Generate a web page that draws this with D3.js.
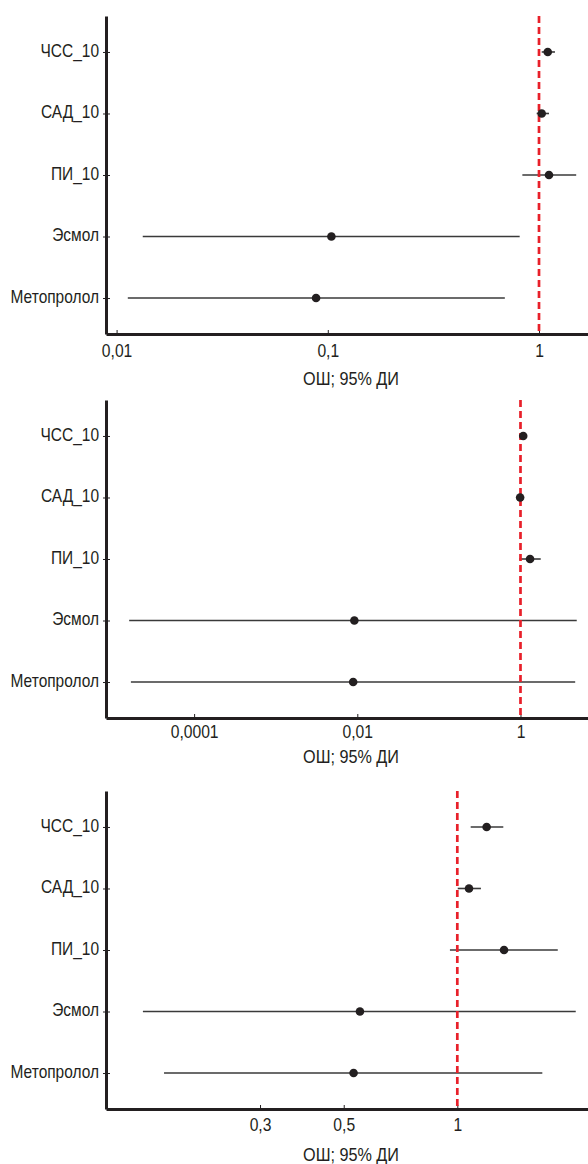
<!DOCTYPE html>
<html>
<head>
<meta charset="utf-8">
<script src="https://cdn.jsdelivr.net/npm/d3@7"></script>
<style>
    body { margin: 0; background: #fff; }
    text { font-family: "Liberation Sans", Arial, sans-serif; fill: #231f20; }
</style>
</head>
<body>
<svg id="chart" width="588" height="1164"></svg>
<script>
const categories = ["ЧСС_10", "САД_10", "ПИ_10", "Эсмол", "Метопролол"];

// panel 1
const or1 = [1.10, 1.03, 1.115, 0.104, 0.088];
const lo1 = [1.03, 0.975, 0.834, 0.0133, 0.0113];
const hi1 = [1.19, 1.115, 1.50, 0.81, 0.689];
const ticks1 = [0.01, 0.1, 1];
const tickLabels1 = ["0,01", "0,1", "1"];
const domain1 = [0.00891, 1.706];

// panel 2
const or2 = [1.08, 0.99, 1.31, 0.0092, 0.0089];
const lo2 = [1.04, 0.97, 0.967, 0.000016, 0.0000168];
const hi2 = [1.12, 1.01, 1.77, 4.89, 4.68];
const ticks2 = [0.0001, 0.01, 1];
const tickLabels2 = ["0,0001", "0,01", "1"];
const domain2 = [0.00000832, 6.72];

// panel 3
const or3 = [1.196, 1.074, 1.33, 0.552, 0.531];
const lo3 = [1.085, 1.0025, 0.956, 0.1468, 0.167];
const hi3 = [1.324, 1.155, 1.846, 2.06, 1.68];
const ticks3 = [0.3, 0.5, 1];
const tickLabels3 = ["0,3", "0,5", "1"];
const domain3 = [0.1172, 2.22];

const xTitle = "ОШ; 95% ДИ";

const panels = [
    { or: or1, lo: lo1, hi: hi1, ticks: ticks1, labels: tickLabels1, domain: domain1, top: 16, labelY: 23, titleY: 51 },
    { or: or2, lo: lo2, hi: hi2, ticks: ticks2, labels: tickLabels2, domain: domain2, top: 400, labelY: 20.5, titleY: 45 },
    { or: or3, lo: lo3, hi: hi3, ticks: ticks3, labels: tickLabels3, domain: domain3, top: 791, labelY: 22.5, titleY: 52 }
];

const svg = d3.select('#chart');
const left = 106, right = 588, panelH = 318;
const FONT = '"Liberation Sans", Arial, sans-serif';
// the original lettering is a tall, narrow grotesque: stretch a regular face
const squeeze = 0.87;

panels.forEach(p => {
    const bottom = p.top + panelH;
    const x = d3.scaleLog().domain(p.domain).range([left, right]);
    const y = d3.scalePoint().domain(categories).range([p.top, bottom]).padding(0.585);

    const g = svg.append('g');

    // x axis
    const xAxis = d3.axisBottom(x)
        .tickValues(p.ticks)
        .tickFormat((d, i) => p.labels[i])
        .tickSize(-4)
        .tickSizeOuter(0);
    const xg = g.append('g').attr('transform', `translate(0,${bottom})`).call(xAxis);
    xg.select('.domain').attr('stroke', '#231f20').attr('stroke-width', 3);
    xg.selectAll('.tick line').attr('stroke', '#231f20');
    xg.selectAll('.tick text')
        .attr('y', p.labelY).attr('dy', null)
        .attr('transform', `scale(${squeeze},1)`)
        .style('font-size', '18px').style('font-family', FONT)
        .attr('fill', '#231f20');

    // y axis
    const yAxis = d3.axisLeft(y).tickSize(4).tickPadding(3).tickSizeOuter(0);
    const yg = g.append('g').attr('transform', `translate(${left},0)`).call(yAxis);
    yg.select('.domain').attr('stroke', '#231f20').attr('stroke-width', 3);
    yg.selectAll('.tick line').attr('stroke', '#231f20').attr('x2', -3).attr('x1', 4);
    yg.selectAll('.tick text')
        .attr('x', -7 / 0.885)
        .attr('dy', '0.25em')
        .attr('transform', 'scale(0.885,1)')
        .style('font-size', '17.5px').style('font-family', FONT)
        .attr('fill', '#231f20');

    // axis title
    g.append('g')
        .attr('transform', `translate(351,${bottom + p.titleY}) scale(0.9,1)`)
        .append('text')
        .attr('text-anchor', 'middle')
        .style('font-size', '18px')
        .text(xTitle);

    // confidence intervals
    g.selectAll('.ci').data(categories).join('line')
        .attr('class', 'ci')
        .attr('x1', (d, i) => x(p.lo[i]))
        .attr('x2', (d, i) => x(p.hi[i]))
        .attr('y1', d => y(d)).attr('y2', d => y(d))
        .attr('stroke', '#3a3a3a').attr('stroke-width', 1.6);

    // reference line at OR = 1
    g.append('line')
        .attr('x1', x(1)).attr('x2', x(1))
        .attr('y1', p.top).attr('y2', bottom - 2)
        .attr('stroke', '#e8202a').attr('stroke-width', 2.7)
        .attr('stroke-dasharray', '7,4');

    // point estimates
    g.selectAll('.pt').data(categories).join('circle')
        .attr('class', 'pt')
        .attr('cx', (d, i) => x(p.or[i]))
        .attr('cy', d => y(d))
        .attr('r', 4.3)
        .attr('fill', '#231f20');
});
</script>
</body>
</html>
